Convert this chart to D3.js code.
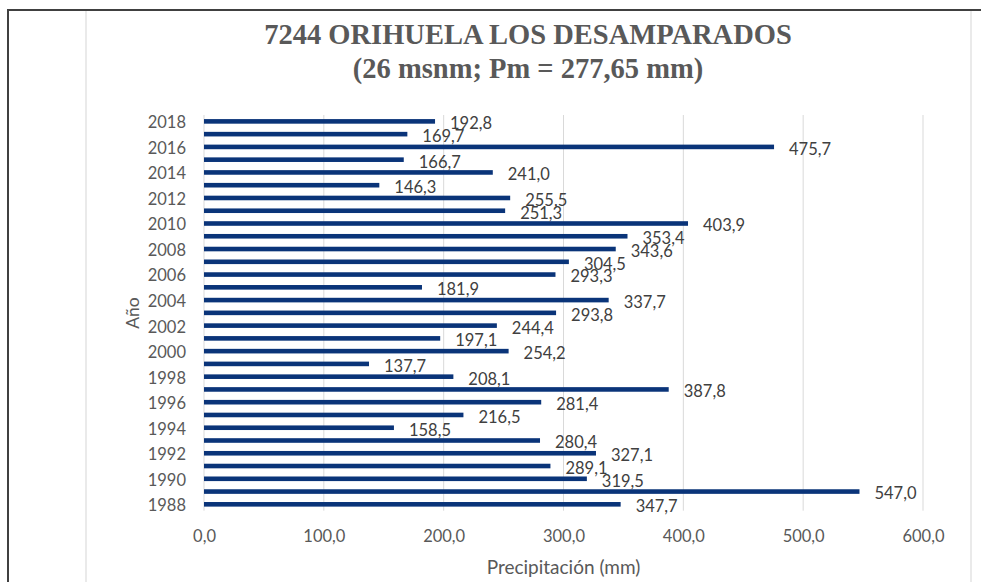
<!DOCTYPE html>
<html>
<head>
<meta charset="utf-8">
<script src="https://cdn.jsdelivr.net/npm/d3@7"></script>
<style>
  body { margin: 0; background: #fff; }
  svg { display: block; }
</style>
</head>
<body>
<div id="chart"></div>
<script>
// data
var years = [1988, 1989, 1990, 1991, 1992, 1993, 1994, 1995, 1996, 1997,
             1998, 1999, 2000, 2001, 2002, 2003, 2004, 2005, 2006, 2007,
             2008, 2009, 2010, 2011, 2012, 2013, 2014, 2015, 2016, 2017, 2018];
var precip = [347.7, 547.0, 319.5, 289.1, 327.1, 280.4, 158.5, 216.5, 281.4, 387.8,
              208.1, 137.7, 254.2, 197.1, 244.4, 293.8, 337.7, 181.9, 293.3, 304.5,
              343.6, 353.4, 403.9, 251.3, 255.5, 146.3, 241.0, 166.7, 475.7, 169.7, 192.8];
var yearTicks = [1988, 1990, 1992, 1994, 1996, 1998, 2000, 2002, 2004, 2006,
                 2008, 2010, 2012, 2014, 2016, 2018];
var xTicks = [0, 100, 200, 300, 400, 500, 600];
var titleLines = ["7244 ORIHUELA LOS DESAMPARADOS", "(26 msnm; Pm = 277,65 mm)"];

var W = 981, H = 582;
var plot = {left: 204, right: 923, top: 115, bottom: 510.7};
var txtColor = "#595959";
var font = "Lato, 'Open Sans', sans-serif";

var data = years.map(function (y, i) { return {year: y, value: precip[i]}; });

var svg = d3.select("#chart").append("svg")
  .attr("width", W)
  .attr("height", H);

// frame lines
svg.append("line").attr("x1", 7).attr("x2", W).attr("y1", 10).attr("y2", 10)
  .style("stroke", "#404040").style("stroke-width", 2);
svg.append("line").attr("x1", 8).attr("x2", 8).attr("y1", 9).attr("y2", H)
  .style("stroke", "#404040").style("stroke-width", 2);
[86, 971].forEach(function (xx) {
  svg.append("line").attr("x1", xx).attr("x2", xx).attr("y1", 11).attr("y2", H)
    .style("stroke", "#e3e3e3").style("stroke-width", 1.5);
});

// title
svg.selectAll(".title")
  .data(titleLines)
  .enter()
  .append("text")
    .attr("class", "title")
    .attr("x", 528)
    .attr("y", function (d, i) { return 44 + i * 34; })
    .attr("text-anchor", "middle")
    .style("font-family", "'Liberation Serif', 'Times New Roman', serif")
    .style("font-weight", "bold")
    .style("font-size", "28.5px")
    .style("fill", txtColor)
    .text(function (d) { return d; });

// scales
var x = d3.scaleLinear()
  .domain([0, 600])
  .range([plot.left, plot.right]);

var y = d3.scaleBand()
  .domain(years.slice().reverse())
  .range([plot.top, plot.bottom])
  .paddingInner(0.64)
  .paddingOuter(0.32);

var fmt = function (v) { return d3.format(".1f")(v).replace(".", ","); };

// gridlines
svg.append("g")
  .selectAll("line")
  .data(xTicks)
  .enter()
  .append("line")
    .attr("x1", function (d) { return x(d); })
    .attr("x2", function (d) { return x(d); })
    .attr("y1", plot.top)
    .attr("y2", plot.bottom)
    .style("stroke", "#d9d9d9")
    .style("stroke-width", 1);

// bars
svg.append("g")
  .selectAll("rect")
  .data(data)
  .enter()
  .append("rect")
    .attr("x", x(0))
    .attr("y", function (d) { return y(d.year); })
    .attr("width", function (d) { return x(d.value) - x(0); })
    .attr("height", y.bandwidth())
    .style("fill", "#0a3479");

// value labels
svg.append("g")
  .selectAll("text")
  .data(data)
  .enter()
  .append("text")
    .attr("x", function (d) { return x(d.value) + 15; })
    .attr("y", function (d) { return y(d.year) + y.bandwidth() / 2 + 2; })
    .attr("dy", "0.36em")
    .style("font-family", font)
    .style("font-size", "16.5px")
    .style("fill", "#404040")
    .text(function (d) { return fmt(d.value); });

// x axis
var xAxis = svg.append("g")
  .attr("transform", "translate(0," + plot.bottom + ")")
  .call(d3.axisBottom(x).tickValues(xTicks).tickSize(0).tickPadding(20).tickFormat(fmt));
xAxis.select(".domain").remove();
xAxis.selectAll("text")
  .style("font-family", font)
  .style("font-size", "16.5px")
  .style("fill", txtColor);

// y axis
var yAxis = svg.append("g")
  .attr("transform", "translate(" + plot.left + ",0)")
  .call(d3.axisLeft(y).tickValues(yearTicks).tickSize(0).tickPadding(18));
yAxis.select(".domain").remove();
yAxis.selectAll("text")
  .attr("dy", "0.42em")
  .style("font-family", font)
  .style("font-size", "16.5px")
  .style("fill", txtColor);

// axis titles
svg.append("text")
  .attr("x", (plot.left + plot.right) / 2)
  .attr("y", 574)
  .attr("text-anchor", "middle")
  .style("font-family", font)
  .style("font-size", "19px")
  .style("fill", txtColor)
  .text("Precipitación (mm)");

svg.append("text")
  .attr("transform", "translate(139,313) rotate(-90)")
  .attr("text-anchor", "middle")
  .style("font-family", font)
  .style("font-size", "17.5px")
  .style("fill", txtColor)
  .text("Año");
</script>
</body>
</html>
